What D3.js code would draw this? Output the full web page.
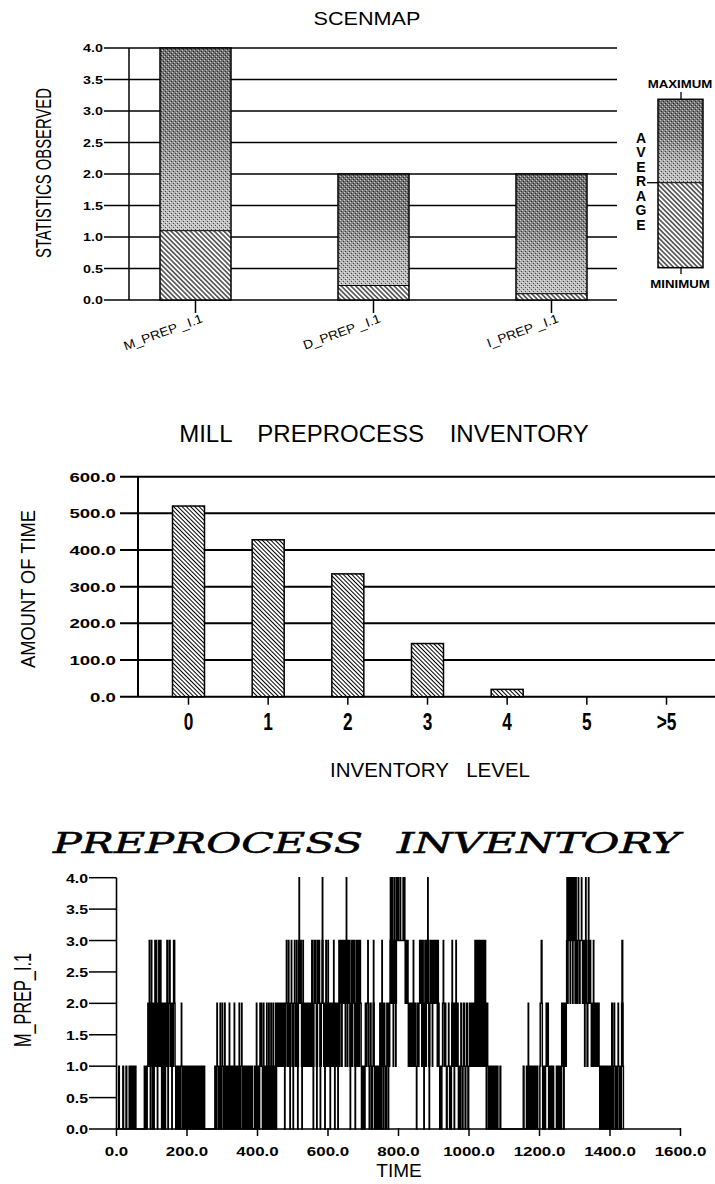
<!DOCTYPE html>
<html><head><meta charset="utf-8">
<script src="https://cdn.jsdelivr.net/npm/d3@7"></script>
<style>html,body{margin:0;padding:0;background:#fff;} svg{display:block;}</style>
</head><body>
<script>
// ---------------- DATA ----------------
const scenCategories = ["M_PREP _I.1", "D_PREP _I.1", "I_PREP _I.1"];
const scenMin = [0, 0, 0];
const scenAvg = [1.1, 0.23, 0.1];
const scenMax = [4.0, 2.0, 2.0];
const scenTicks = [0, 0.5, 1.0, 1.5, 2.0, 2.5, 3.0, 3.5, 4.0];

const invLevels = ["0", "1", "2", "3", "4", "5", ">5"];
const invTime = [520, 428, 335, 145, 20, 0, 0];
const invTicks = [0, 100, 200, 300, 400, 500, 600];

const stepTicksY = [0, 0.5, 1.0, 1.5, 2.0, 2.5, 3.0, 3.5, 4.0];
const stepTicksX = [0, 200, 400, 600, 800, 1000, 1200, 1400, 1600];
// [time, inventory level] change points of M_PREP_I.1
const invSteps = [
[0,0],[6,1],[8,0],[18,1],[20,0],[27,1],[29,0],[36,1],[38,0],[40,1],[42,0],[44,1],[46,0],[49,1],[51,0],[53,1],[55,0],
[79,1],[81,0],[83,1],[85,0],[87,1],[89,2],[91,1],[92,2],[93,3],[94,2],[95,1],[96,0],[97,1],[98,2],[99,3],[100,2],[101,1],[102,0],[103,1],[104,2],[105,1],[106,0],[107,1],[108,2],[109,3],[110,2],[111,1],[112,2],[113,3],[114,2],
[115,1],[116,0],[117,1],[118,2],[120,3],[121,2],[122,1],[124,2],[125,3],[126,2],[127,1],[128,0],[129,1],[130,2],[131,1],[132,0],[134,1],[135,2],[136,1],[137,0],[139,1],[140,2],[141,1],[142,2],[143,3],[144,2],[145,1],[146,0],[147,1],[148,2],[149,3],[150,2],[151,3],[152,2],[153,1],[154,2],[156,1],[157,0],[158,1],[159,2],[160,1],[161,2],[162,3],[163,2],[164,3],[165,2],[166,1],[168,0],
[170,1],[172,0],[174,1],[176,0],[178,1],[180,0],[182,1],[184,2],[185,1],[187,0],[189,1],[191,0],[193,1],[195,0],[197,1],[199,0],[201,1],[203,0],[205,1],[207,0],[210,1],[212,0],[214,1],[216,0],[218,1],[220,0],[224,1],[226,0],[228,1],[230,0],[232,1],[234,0],[236,1],[238,0],[240,1],[242,0],[244,1],[246,0],[248,1],[250,0],
[279,1],[281,0],[283,1],[285,2],[286,1],[288,0],[290,1],[292,0],[293,1],[294,2],[295,1],[296,0],[298,1],[300,2],[301,1],[303,0],[305,1],[307,2],[308,1],[309,0],[312,1],[314,0],[318,1],[320,2],[321,1],[322,0],[325,1],[327,0],[329,1],[331,0],[333,1],[334,2],[335,1],[337,0],[340,1],[342,0],[344,1],[346,0],[347,1],[348,2],[349,1],[351,0],[353,1],[355,2],[356,1],[358,0],[360,1],[362,0],[364,1],[366,0],[368,1],[370,0],[372,1],[374,0],[376,1],[378,0],[380,1],[382,0],[384,1],[386,0],[392,1],[394,0],[396,1],[397,2],[398,1],[400,0],[402,1],[404,0],[406,1],[407,2],[409,1],[411,2],[412,1],[414,0],[416,1],[417,2],[418,1],[420,0],
[422,1],[424,0],[425,1],[426,2],[427,1],[429,0],[431,1],[432,2],[433,1],[435,0],[437,1],[438,2],[439,1],[441,0],[443,1],[444,2],[445,1],[447,0],[449,1],[451,2],[452,1],[453,0],[454,1],[455,2],[457,1],[459,2],[461,1],[463,2],[465,1],[467,2],[469,1],[471,2],[473,1],[475,2],[476,1],[477,0],[478,1],[480,2],[482,3],[483,2],[485,1],[487,2],[488,3],[489,2],[491,1],[492,0],[493,1],[494,2],[496,3],[497,2],[499,1],[501,0],[502,1],[503,2],[505,3],[506,2],[508,1],[510,2],[511,3],[512,2],[513,1],[514,0],[515,1],[516,2],[517,3],[518,4],[519,3],[521,2],[522,3],[524,2],[525,1],[526,0],[527,1],[528,2],[529,3],[530,2],
[531,1],[533,2],[535,1],[537,2],[539,1],[541,2],[543,1],[545,2],[547,1],[549,2],[551,1],[553,2],[554,3],[556,2],[557,1],[558,0],[559,1],[560,2],[561,3],[563,2],[564,3],[566,2],[567,1],[568,0],[569,1],[570,2],[571,3],[573,2],[574,3],[576,2],[577,1],[578,0],[579,1],[581,2],[583,3],[584,4],[585,3],[586,2],[588,1],[589,2],[590,1],[591,0],[592,1],[593,2],[594,3],[595,2],[597,1],[599,2],[600,3],[601,2],[602,1],[604,2],[605,1],[606,0],[607,1],[608,2],[610,1],[612,2],[614,1],[615,2],[616,3],[617,2],[618,1],[619,0],[620,1],[621,2],[623,1],[625,2],[627,1],[628,0],[629,1],[630,2],[631,3],[632,2],[633,1],[634,2],[636,3],[638,2],[639,1],[640,2],[642,3],[643,2],[644,3],[646,2],[647,3],[648,2],[649,1],[650,2],[651,3],[652,4],[653,3],[654,2],[655,1],[656,2],[657,3],[659,2],[660,3],[661,2],[662,1],[663,0],[664,1],[665,2],[666,3],[668,2],[669,1],[670,2],[671,3],[673,2],[674,3],[675,2],[676,1],[677,0],[678,1],[679,2],[680,3],[682,2],[683,1],[684,2],[685,3],[687,2],[688,1],[689,2],[690,3],[692,2],[694,1],[695,0],[697,1],[699,0],[701,1],[704,0],[705,1],[706,2],[708,1],[710,2],[713,3],[714,2],[715,1],[717,0],
[719,1],[720,2],[722,1],[724,0],[726,1],[728,2],[729,3],[730,2],[731,1],[732,0],[734,1],[736,0],[738,1],[740,0],[742,1],[744,0],[746,1],[747,2],[749,1],[750,0],[751,1],[752,2],[753,3],[754,2],[755,1],[756,0],[758,1],[759,2],[761,1],[763,0],[766,1],[767,2],[769,1],[771,0],[772,1],[773,2],[774,1],[775,2],[776,3],[777,4],[778,3],[779,2],[780,3],[781,4],[783,3],[784,2],[785,1],[786,2],[787,3],[788,4],[790,3],[791,2],[792,1],[793,2],[794,3],[795,4],[796,3],[799,4],[800,3],[805,4],[806,3],[813,4],[815,3],[817,4],[818,3],[819,2],[821,3],[823,2],[825,3],[827,2],[828,1],[830,2],[832,1],[834,2],[836,1],[838,2],[840,1],[841,2],[842,3],[843,2],[845,1],[847,2],[849,1],[851,0],[852,1],[854,2],[856,1],[858,2],[860,3],[862,2],[863,3],[865,2],[866,1],[868,2],[869,3],[870,2],[871,1],[872,0],[873,1],[874,2],[875,3],[877,2],[878,1],[879,2],[880,3],[881,2],[882,3],[883,4],[884,3],[885,2],[886,1],[887,0],[888,1],[889,2],[890,3],[892,2],[893,3],[895,2],[896,1],[897,2],[899,3],[901,2],[903,3],[905,2],[907,3],[909,2],[910,1],[911,2],[912,3],[913,2],[915,1],[917,0],[918,1],[921,0],[923,1],[925,2],[927,3],[928,2],[930,1],[932,2],[934,1],[936,0],[938,1],[942,2],[943,1],[945,0],[946,1],[948,0],[950,1],[951,2],[952,3],[953,2],[954,1],[955,2],[957,1],[958,0],[959,1],[961,2],[963,3],[964,2],[965,1],[967,2],[969,1],[970,0],[972,1],[974,0],[976,1],[977,2],[979,1],[981,0],[983,1],[985,2],[987,1],[989,0],[991,1],[993,2],[995,1],[997,0],[999,1],[1001,2],[1002,1],[1004,2],[1006,1],[1008,2],[1010,1],[1012,2],[1014,1],[1016,2],[1017,3],[1019,2],[1020,1],[1022,2],[1023,3],[1025,2],[1026,1],[1028,2],[1029,3],[1031,2],[1032,1],[1034,2],[1035,3],[1037,2],[1038,1],[1040,2],[1041,3],[1043,2],[1044,1],[1045,2],[1046,3],[1047,2],[1048,1],[1049,0],[1050,1],[1052,2],[1053,1],[1055,0],[1058,1],[1060,0],[1063,1],[1065,0],[1068,1],[1070,0],[1074,1],[1076,0],[1080,1],[1082,0],[1088,1],[1090,0],
[1154,1],[1156,0],[1163,1],[1165,0],[1167,1],[1168,2],[1169,1],[1171,0],[1173,1],[1175,0],[1177,1],[1179,0],[1181,1],[1183,0],[1185,1],[1187,0],[1189,1],[1191,0],[1193,1],[1195,0],[1201,1],[1202,2],[1205,3],[1207,2],[1208,1],[1209,0],[1212,1],[1214,0],[1217,1],[1219,2],[1221,1],[1223,2],[1225,1],[1226,0],[1230,1],[1232,0],[1234,1],[1236,0],[1238,1],[1240,0],[1248,1],[1250,0],[1252,1],[1254,0],[1257,1],[1259,0],[1262,1],[1263,2],[1264,1],[1266,2],[1267,1],[1268,0],[1270,1],[1271,2],[1272,1],[1274,2],[1275,1],[1276,2],[1277,3],[1278,4],[1279,3],[1280,2],[1281,3],[1282,4],[1283,3],[1285,4],[1286,3],[1287,2],[1288,3],[1289,4],[1290,3],[1292,4],[1293,3],[1294,2],[1295,3],[1296,4],[1297,3],[1299,4],[1300,3],[1301,2],[1302,3],[1303,4],[1304,3],[1306,2],[1308,3],[1310,4],[1311,3],[1313,2],[1315,3],[1319,4],[1320,3],[1322,2],[1324,3],[1326,2],[1328,1],[1329,2],[1330,3],[1331,4],[1332,3],[1333,2],[1335,1],[1337,2],[1338,3],[1339,4],[1340,3],[1342,2],[1343,3],[1345,2],[1347,1],[1349,2],[1351,1],[1352,2],[1353,3],[1354,2],[1355,1],[1357,2],[1358,1],[1360,2],[1361,1],[1362,2],[1363,1],[1365,2],[1366,1],[1368,2],[1369,1],[1371,0],[1372,1],[1374,0],[1376,1],[1378,0],[1380,1],[1382,0],[1384,1],[1386,0],[1388,1],[1390,0],[1392,1],[1394,0],[1396,1],[1398,0],[1400,1],[1402,0],[1404,1],[1405,2],[1407,1],[1408,0],[1410,1],[1412,2],[1413,1],[1415,0],[1417,1],[1419,0],[1421,1],[1423,2],[1424,1],[1426,0],[1428,1],[1430,0],[1432,1],[1433,2],[1434,3],[1436,2],[1437,1],[1438,0]
];

// ---------------- SETUP ----------------
const SANS = "'Liberation Sans', Arial, sans-serif";
const svg = d3.select("body").append("svg").attr("width", 715).attr("height", 1184);
svg.append("rect").attr("width", 715).attr("height", 1184).attr("fill", "#fff");
const defs = svg.append("defs");

function stretch(sel, f) {
  sel.each(function () {
    const w = this.getComputedTextLength();
    this.setAttribute("textLength", (w * f).toFixed(1));
    this.setAttribute("lengthAdjust", "spacingAndGlyphs");
  });
  return sel;
}
function fit(sel, len) { sel.attr("textLength", len).attr("lengthAdjust", "spacingAndGlyphs"); return sel; }

function hatch(id, size, sw) {
  const p = defs.append("pattern").attr("id", id).attr("patternUnits", "userSpaceOnUse")
    .attr("width", size).attr("height", size).attr("patternTransform", "rotate(-45)");
  p.append("rect").attr("width", size).attr("height", size).attr("fill", "#fff");
  p.append("line").attr("x1", size / 2).attr("x2", size / 2).attr("y1", 0).attr("y2", size)
    .attr("stroke", "#000").attr("stroke-width", sw);
}
hatch("hatchTop", 3.4, 1.1);
hatch("hatchMid", 3.0, 1.0);

// stipple texture: grey ramp (dark at top, lighter at bottom) with a dither overlay
const grad = defs.append("linearGradient").attr("id", "stipGrad").attr("x1", 0).attr("y1", 0).attr("x2", 0).attr("y2", 1);
[[0, "#6e6e6e"], [0.45, "#858585"], [0.7, "#aaaaaa"], [1, "#c4c4c4"]].forEach(s =>
  grad.append("stop").attr("offset", s[0]).attr("stop-color", s[1]));
const dp = defs.append("pattern").attr("id", "dither").attr("patternUnits", "userSpaceOnUse").attr("width", 4).attr("height", 4);
dp.append("rect").attr("x", 0).attr("y", 0).attr("width", 1).attr("height", 1).attr("fill", "#fff");
dp.append("rect").attr("x", 2).attr("y", 2).attr("width", 1).attr("height", 1).attr("fill", "#fff");
dp.append("rect").attr("x", 1).attr("y", 3).attr("width", 1).attr("height", 1).attr("fill", "#000");
dp.append("rect").attr("x", 3).attr("y", 1).attr("width", 1).attr("height", 1).attr("fill", "#000");

function stippleRect(g, x, y, w, h) {
  g.append("rect").attr("x", x).attr("y", y).attr("width", w).attr("height", h).attr("fill", "url(#stipGrad)");
  g.append("rect").attr("x", x).attr("y", y).attr("width", w).attr("height", h).attr("fill", "url(#dither)").attr("opacity", 0.6);
}

// ---------------- TOP: SCENMAP ----------------
const yTop = d3.scaleLinear().domain([0, 4]).range([300, 48]);
const xTop = d3.scalePoint().domain(scenCategories).range([195.5, 551.5]);
const gT = svg.append("g");
gT.append("text").attr("x", 367).attr("y", 25).attr("text-anchor", "middle")
  .attr("font-family", SANS).attr("font-size", 18).text("SCENMAP").call(stretch, 1.2);
gT.selectAll("line.grid").data(scenTicks).join("line").attr("class", "grid")
  .attr("x1", 104).attr("x2", 617).attr("y1", d => yTop(d)).attr("y2", d => yTop(d))
  .attr("stroke", "#000").attr("stroke-width", 1.4);
gT.selectAll("text.tick").data(scenTicks).join("text").attr("class", "tick")
  .attr("x", 103).attr("y", d => yTop(d) + 4).attr("text-anchor", "end")
  .attr("font-family", SANS).attr("font-weight", "bold").attr("font-size", 11)
  .text(d => d.toFixed(1)).call(stretch, 1.3);
gT.append("line").attr("x1", 129).attr("x2", 129).attr("y1", yTop(4)).attr("y2", yTop(0)).attr("stroke", "#000").attr("stroke-width", 1.5);
gT.append("text").attr("transform", "translate(51,173) rotate(-90)").attr("text-anchor", "middle")
  .attr("font-family", SANS).attr("font-size", 22).text("STATISTICS OBSERVED").call(fit, 170);

const bwT = 71;
scenCategories.forEach((c, i) => {
  const x0 = xTop(c) - bwT / 2;
  gT.append("rect").attr("x", x0).attr("y", yTop(scenAvg[i])).attr("width", bwT)
    .attr("height", yTop(scenMin[i]) - yTop(scenAvg[i])).attr("fill", "url(#hatchTop)");
  stippleRect(gT, x0, yTop(scenMax[i]), bwT, yTop(scenAvg[i]) - yTop(scenMax[i]));
  gT.append("rect").attr("x", x0).attr("y", yTop(scenMax[i])).attr("width", bwT)
    .attr("height", yTop(scenMin[i]) - yTop(scenMax[i])).attr("fill", "none").attr("stroke", "#000").attr("stroke-width", 1.5);
  gT.append("line").attr("x1", x0).attr("x2", x0 + bwT).attr("y1", yTop(scenAvg[i])).attr("y2", yTop(scenAvg[i])).attr("stroke", "#000").attr("stroke-width", 1);
  gT.append("line").attr("x1", xTop(c)).attr("x2", xTop(c)).attr("y1", yTop(0)).attr("y2", yTop(0) + 13).attr("stroke", "#000").attr("stroke-width", 1.5);
  gT.append("text").attr("transform", `translate(${xTop(c) + 8},322) rotate(-20)`).attr("text-anchor", "end")
    .attr("font-family", SANS).attr("font-size", 12.5).text(c).call(stretch, 1.1);
});

// legend
const gL = svg.append("g");
const lx = 658, lw = 45, lTop = 99.3, lMid = 182.7, lBot = 267.7;
gL.append("rect").attr("x", lx).attr("y", lMid).attr("width", lw).attr("height", lBot - lMid).attr("fill", "url(#hatchTop)");
stippleRect(gL, lx, lTop, lw, lMid - lTop);
gL.append("rect").attr("x", lx).attr("y", lTop).attr("width", lw).attr("height", lBot - lTop).attr("fill", "none").attr("stroke", "#000").attr("stroke-width", 1.5);
gL.append("line").attr("x1", lx).attr("x2", lx + lw).attr("y1", lMid).attr("y2", lMid).attr("stroke", "#000").attr("stroke-width", 1);
gL.append("line").attr("x1", 681).attr("x2", 681).attr("y1", 92).attr("y2", lTop).attr("stroke", "#000").attr("stroke-width", 1.3);
gL.append("line").attr("x1", 681).attr("x2", 681).attr("y1", lBot).attr("y2", 274).attr("stroke", "#000").attr("stroke-width", 1.3);
gL.append("line").attr("x1", 647).attr("x2", lx).attr("y1", lMid).attr("y2", lMid).attr("stroke", "#000").attr("stroke-width", 1.3);
gL.append("text").attr("x", 680).attr("y", 88).attr("text-anchor", "middle").attr("font-family", SANS)
  .attr("font-weight", "bold").attr("font-size", 11.5).text("MAXIMUM").call(stretch, 1.15);
gL.append("text").attr("x", 680).attr("y", 288).attr("text-anchor", "middle").attr("font-family", SANS)
  .attr("font-weight", "bold").attr("font-size", 11.5).text("MINIMUM").call(stretch, 1.15);
gL.selectAll("text.avg").data("AVERAGE".split("")).join("text").attr("class", "avg")
  .attr("x", 641).attr("y", (d, i) => 142.5 + 14.5 * i).attr("text-anchor", "middle")
  .attr("font-family", SANS).attr("font-weight", "bold").attr("font-size", 14).text(d => d);

// ---------------- MIDDLE: MILL PREPROCESS INVENTORY ----------------
const yMid = d3.scaleLinear().domain([0, 600]).range([696.7, 476.7]);
const xMid = d3.scalePoint().domain(invLevels).range([188.5, 666.5]);
const gM = svg.append("g");
gM.append("text").attr("x", 384).attr("y", 442).attr("text-anchor", "middle").attr("font-family", SANS)
  .attr("font-size", 24).attr("word-spacing", 19).text("MILL PREPROCESS INVENTORY");
gM.selectAll("line.grid").data(invTicks).join("line").attr("class", "grid")
  .attr("x1", 120).attr("x2", 715).attr("y1", d => yMid(d)).attr("y2", d => yMid(d))
  .attr("stroke", "#000").attr("stroke-width", 2);
gM.selectAll("text.tick").data(invTicks).join("text").attr("class", "tick")
  .attr("x", 116).attr("y", d => yMid(d) + 5).attr("text-anchor", "end")
  .attr("font-family", SANS).attr("font-weight", "bold").attr("font-size", 13.5)
  .text(d => d.toFixed(1)).call(stretch, 1.38);
gM.append("line").attr("x1", 138).attr("x2", 138).attr("y1", yMid(600)).attr("y2", yMid(0)).attr("stroke", "#000").attr("stroke-width", 2);
const bwM = 32;
gM.selectAll("rect.bar").data(invLevels.map((l, i) => ({ l, v: invTime[i] })).filter(d => d.v > 0)).join("rect")
  .attr("class", "bar").attr("x", d => xMid(d.l) - bwM / 2).attr("y", d => yMid(d.v))
  .attr("width", bwM).attr("height", d => yMid(0) - yMid(d.v))
  .attr("fill", "url(#hatchMid)").attr("stroke", "#000").attr("stroke-width", 1.5);
gM.selectAll("line.ctick").data(invLevels).join("line").attr("class", "ctick")
  .attr("x1", d => xMid(d)).attr("x2", d => xMid(d)).attr("y1", yMid(0)).attr("y2", yMid(0) + 8)
  .attr("stroke", "#000").attr("stroke-width", 1.5);
gM.selectAll("text.clab").data(invLevels).join("text").attr("class", "clab")
  .attr("x", d => xMid(d)).attr("y", 730).attr("text-anchor", "middle")
  .attr("font-family", SANS).attr("font-weight", "bold").attr("font-size", 23).text(d => d).call(stretch, 0.75);
gM.append("text").attr("x", 430).attr("y", 777).attr("text-anchor", "middle").attr("font-family", SANS)
  .attr("font-size", 20.5).attr("word-spacing", 12).text("INVENTORY LEVEL");
gM.append("text").attr("transform", "translate(35,589) rotate(-90)").attr("text-anchor", "middle")
  .attr("font-family", SANS).attr("font-size", 21).text("AMOUNT OF TIME").call(fit, 158);

// ---------------- BOTTOM: PREPROCESS INVENTORY ----------------
const yBot = d3.scaleLinear().domain([0, 4]).range([1129, 877.7]);
const xBot = d3.scaleLinear().domain([0, 1600]).range([116.5, 680.5]);
const gB = svg.append("g");
const SERIF = "'DejaVu Serif', 'Liberation Serif', serif";
gB.append("text").attr("x", 53).attr("y", 853).attr("font-family", SERIF).attr("font-style", "italic")
  .attr("font-size", 28).attr("stroke", "#000").attr("stroke-width", 0.5).text("PREPROCESS").call(fit, 310);
gB.append("text").attr("x", 397).attr("y", 853).attr("font-family", SERIF).attr("font-style", "italic")
  .attr("font-size", 28).attr("stroke", "#000").attr("stroke-width", 0.5).text("INVENTORY").call(fit, 283);

const stepLine = d3.line().x(d => xBot(d[0])).y(d => yBot(d[1])).curve(d3.curveStepAfter);
gB.append("path").attr("d", stepLine(invSteps)).attr("fill", "none").attr("stroke", "#000").attr("stroke-width", 1.5);

gB.append("line").attr("x1", xBot(0)).attr("x2", xBot(0)).attr("y1", yBot(4)).attr("y2", yBot(0)).attr("stroke", "#000").attr("stroke-width", 1.6);
gB.append("line").attr("x1", xBot(0)).attr("x2", xBot(1600)).attr("y1", yBot(0)).attr("y2", yBot(0)).attr("stroke", "#000").attr("stroke-width", 1.6);
gB.selectAll("line.yt").data(stepTicksY).join("line").attr("class", "yt")
  .attr("x1", 89).attr("x2", xBot(0)).attr("y1", d => yBot(d)).attr("y2", d => yBot(d)).attr("stroke", "#000").attr("stroke-width", 1.5);
gB.selectAll("text.yl").data(stepTicksY).join("text").attr("class", "yl")
  .attr("x", 88).attr("y", d => yBot(d) + 5).attr("text-anchor", "end")
  .attr("font-family", SANS).attr("font-weight", "bold").attr("font-size", 13).text(d => d.toFixed(1)).call(stretch, 1.22);
gB.selectAll("line.xt").data(stepTicksX).join("line").attr("class", "xt")
  .attr("x1", d => xBot(d)).attr("x2", d => xBot(d)).attr("y1", yBot(0) - 1).attr("y2", yBot(0) + 7).attr("stroke", "#000").attr("stroke-width", 1.5);
gB.selectAll("text.xl").data(stepTicksX).join("text").attr("class", "xl")
  .attr("x", d => xBot(d)).attr("y", 1156).attr("text-anchor", "middle")
  .attr("font-family", SANS).attr("font-weight", "bold").attr("font-size", 13).text(d => d.toFixed(1)).call(stretch, 1.3);
gB.append("text").attr("x", 399).attr("y", 1177).attr("text-anchor", "middle").attr("font-family", SANS)
  .attr("font-size", 19).text("TIME");
gB.append("text").attr("transform", "translate(31,1000) rotate(-90)").attr("text-anchor", "middle")
  .attr("font-family", SANS).attr("font-size", 24).text("M_PREP_I.1").call(fit, 94);
</script>
</body></html>
